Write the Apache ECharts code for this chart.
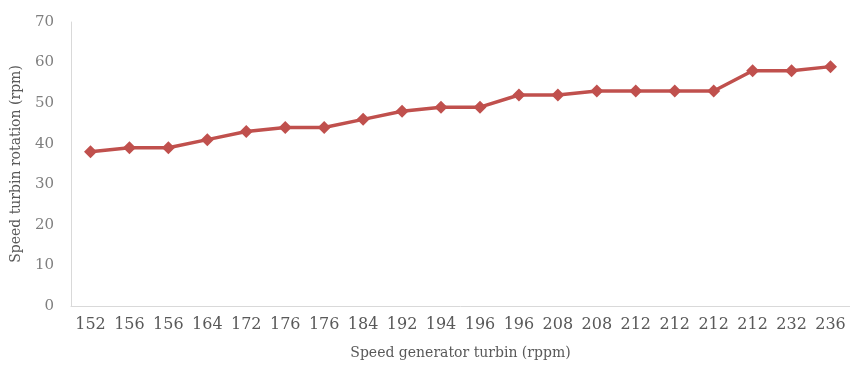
<!DOCTYPE html>
<html>
<head>
<meta charset="utf-8">
<script src="https://cdn.jsdelivr.net/npm/echarts@6/dist/echarts.min.js"></script>
<style>html,body{margin:0;padding:0;background:#fff}#c{width:850px;height:365px}</style>
</head>
<body>
<div id="c"></div>
<script>
const categories = ['152','156','156','164','172','176','176','184','192','194','196','196','208','208','212','212','212','212','232','236'];
const values = [38,39,39,41,43,44,44,46,48,49,49,52,52,53,53,53,53,58,58,59];
const yTicks = {min: 0, max: 70, interval: 10};
const xName = 'Speed generator turbin (rppm)';
const yName = 'Speed turbin rotation (rpm)';

const font = '"DejaVu Serif", "Liberation Serif", serif';
const chart = echarts.init(document.getElementById('c'), null, {renderer: 'canvas'});
chart.setOption({
  animation: false,
  backgroundColor: '#fff',
  grid: {left: 71, right: 0, top: 22, bottom: 57, containLabel: false},
  xAxis: {
    type: 'category',
    data: categories,
    boundaryGap: true,
    name: xName,
    nameLocation: 'middle',
    nameGap: 40,
    nameTextStyle: {fontFamily: font, fontSize: 14, color: '#595959'},
    axisLine: {show: true, lineStyle: {color: '#d9d9d9', width: 1}},
    axisTick: {show: false},
    axisLabel: {interval: 0, fontFamily: font, fontSize: 16, color: '#595959', margin: 11},
    splitLine: {show: false}
  },
  yAxis: {
    type: 'value',
    min: yTicks.min, max: yTicks.max, interval: yTicks.interval,
    name: yName,
    nameLocation: 'middle',
    nameGap: 48,
    nameTextStyle: {fontFamily: font, fontSize: 14, color: '#595959'},
    axisLine: {show: true, lineStyle: {color: '#d9d9d9', width: 1}},
    axisTick: {show: false},
    axisLabel: {fontFamily: font, fontSize: 15, color: '#7f7f7f', margin: 17},
    splitLine: {show: false}
  },
  series: [{
    type: 'line',
    data: values,
    symbol: 'diamond',
    symbolSize: 13,
    lineStyle: {color: '#c0504d', width: 3.5},
    itemStyle: {color: '#c0504d'}
  }]
});
</script>
</body>
</html>
